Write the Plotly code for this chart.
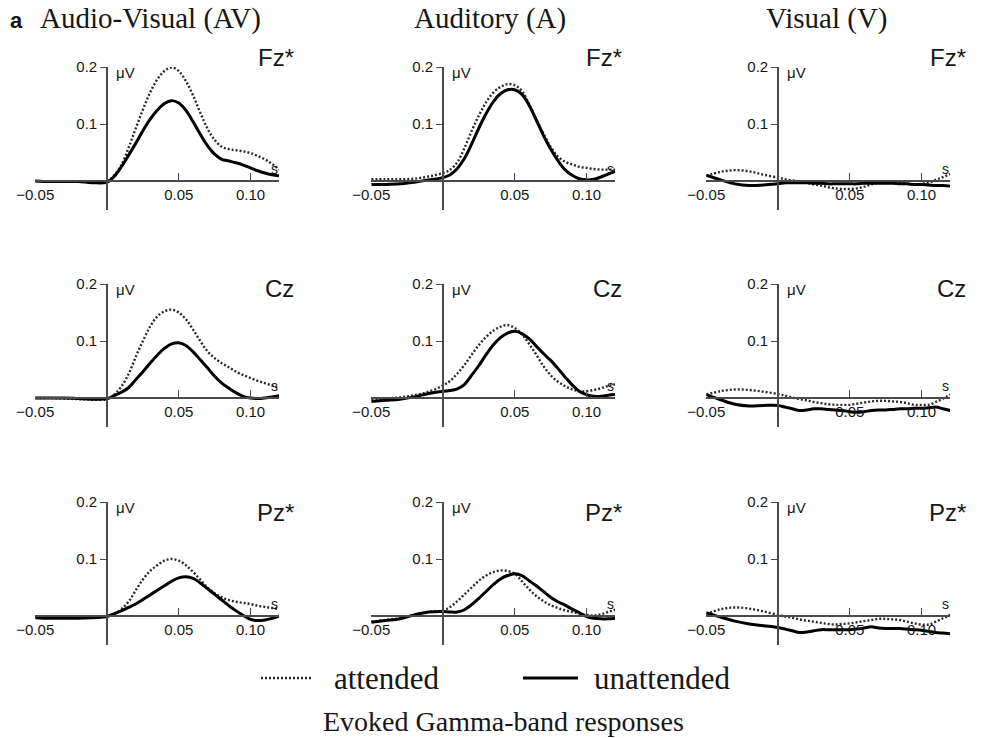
import plotly.graph_objects as go

W, H = 986, 738

# ---------------- data ----------------
t = [-0.05, -0.04, -0.03, -0.02, -0.01, 0.000, 0.005, 0.010, 0.015, 0.020,
     0.025, 0.030, 0.035, 0.040, 0.045, 0.050, 0.055, 0.060, 0.065, 0.070,
     0.075, 0.080, 0.085, 0.090, 0.095, 0.100, 0.105, 0.110, 0.115, 0.120]

conditions = ["Audio-Visual (AV)", "Auditory (A)", "Visual (V)"]
electrodes = ["Fz*", "Cz", "Pz*"]
x_tick_vals = [-0.05, 0.05, 0.10]
x_tick_text = ["\u22120.05", "0.05", "0.10"]
y_tick_vals = [0.1, 0.2]
y_tick_text = ["0.1", "0.2"]

av_fz_att = [0.000, -0.001, -0.001, -0.001, -0.002, 0.000, 0.010, 0.028, 0.058, 0.092,
             0.125, 0.155, 0.178, 0.193, 0.199, 0.193, 0.175, 0.150, 0.120, 0.092,
             0.072, 0.060, 0.056, 0.054, 0.052, 0.049, 0.044, 0.038, 0.030, 0.020]
av_fz_unatt = [0.000, -0.001, -0.001, -0.001, -0.003, -0.002, 0.008, 0.025, 0.045, 0.066,
               0.088, 0.108, 0.124, 0.136, 0.141, 0.137, 0.124, 0.104, 0.082, 0.062,
               0.047, 0.038, 0.035, 0.032, 0.028, 0.023, 0.018, 0.014, 0.011, 0.009]
av_cz_att = [0.000, 0.000, -0.001, -0.002, -0.003, -0.002, 0.006, 0.020, 0.042, 0.072,
             0.100, 0.125, 0.143, 0.152, 0.155, 0.150, 0.138, 0.120, 0.100, 0.082,
             0.070, 0.061, 0.054, 0.046, 0.040, 0.035, 0.030, 0.026, 0.022, 0.019]
av_cz_unatt = [0.000, 0.000, 0.000, -0.001, -0.002, -0.001, 0.004, 0.010, 0.018, 0.032,
               0.046, 0.061, 0.075, 0.087, 0.095, 0.097, 0.092, 0.081, 0.067, 0.053,
               0.038, 0.026, 0.017, 0.009, 0.003, 0.000, -0.001, 0.000, 0.002, 0.004]
av_pz_att = [-0.001, -0.002, -0.002, -0.002, -0.003, -0.001, 0.004, 0.012, 0.025, 0.045,
             0.064, 0.079, 0.089, 0.097, 0.100, 0.097, 0.089, 0.077, 0.064, 0.050,
             0.040, 0.033, 0.028, 0.025, 0.023, 0.021, 0.018, 0.016, 0.014, 0.012]
av_pz_unatt = [-0.003, -0.004, -0.004, -0.004, -0.003, -0.001, 0.004, 0.009, 0.015, 0.021,
               0.029, 0.037, 0.045, 0.053, 0.061, 0.067, 0.069, 0.066, 0.058, 0.048,
               0.038, 0.028, 0.018, 0.009, 0.001, -0.006, -0.008, -0.007, -0.004, 0.000]

a_fz_att = [0.003, 0.003, 0.003, 0.004, 0.008, 0.014, 0.020, 0.033, 0.058, 0.088,
            0.115, 0.138, 0.155, 0.165, 0.170, 0.168, 0.158, 0.135, 0.108, 0.083,
            0.060, 0.043, 0.034, 0.029, 0.025, 0.023, 0.021, 0.020, 0.020, 0.020]
a_fz_unatt = [-0.006, -0.006, -0.005, -0.002, 0.002, 0.006, 0.011, 0.022, 0.040, 0.065,
              0.093, 0.118, 0.139, 0.153, 0.160, 0.160, 0.152, 0.133, 0.107, 0.080,
              0.056, 0.036, 0.020, 0.010, 0.004, 0.002, 0.003, 0.007, 0.012, 0.017]
a_cz_att = [-0.003, -0.001, 0.001, 0.005, 0.011, 0.022, 0.030, 0.043, 0.058, 0.076,
            0.093, 0.107, 0.118, 0.125, 0.128, 0.123, 0.112, 0.095, 0.076, 0.056,
            0.040, 0.029, 0.021, 0.015, 0.012, 0.012, 0.014, 0.017, 0.021, 0.024]
a_cz_unatt = [-0.006, -0.004, -0.002, 0.002, 0.008, 0.012, 0.013, 0.016, 0.024, 0.040,
              0.057, 0.076, 0.093, 0.106, 0.114, 0.117, 0.113, 0.104, 0.091, 0.078,
              0.066, 0.052, 0.037, 0.023, 0.012, 0.006, 0.003, 0.003, 0.005, 0.006]
a_pz_att = [-0.010, -0.007, -0.004, 0.002, 0.007, 0.010, 0.016, 0.026, 0.038, 0.050,
            0.062, 0.071, 0.077, 0.080, 0.079, 0.074, 0.061, 0.047, 0.035, 0.026,
            0.019, 0.014, 0.010, 0.007, 0.004, 0.002, 0.001, 0.003, 0.007, 0.011]
a_pz_unatt = [-0.011, -0.008, -0.005, 0.002, 0.007, 0.008, 0.007, 0.007, 0.011, 0.020,
              0.031, 0.043, 0.055, 0.065, 0.071, 0.074, 0.071, 0.062, 0.053, 0.043,
              0.033, 0.025, 0.019, 0.012, 0.006, -0.001, -0.004, -0.005, -0.005, -0.004]

v_fz_att = [0.009, 0.016, 0.019, 0.017, 0.011, 0.006, 0.003, 0.001, -0.001, -0.003,
            -0.006, -0.008, -0.011, -0.013, -0.014, -0.014, -0.013, -0.010, -0.006, -0.003,
            -0.002, -0.002, -0.003, -0.005, -0.006, -0.005, -0.003, 0.002, 0.007, 0.012]
v_fz_unatt = [0.010, 0.002, -0.005, -0.008, -0.007, -0.005, -0.003, -0.003, -0.003, -0.003,
              -0.004, -0.004, -0.005, -0.005, -0.005, -0.005, -0.005, -0.004, -0.004, -0.004,
              -0.004, -0.004, -0.005, -0.005, -0.006, -0.006, -0.007, -0.008, -0.008, -0.009]
v_cz_att = [0.006, 0.012, 0.015, 0.014, 0.011, 0.007, 0.004, 0.001, -0.002, -0.004,
            -0.007, -0.009, -0.011, -0.012, -0.012, -0.012, -0.010, -0.008, -0.006, -0.005,
            -0.005, -0.006, -0.007, -0.009, -0.012, -0.012, -0.012, -0.007, -0.001, 0.006]
v_cz_unatt = [0.006, -0.003, -0.011, -0.014, -0.013, -0.013, -0.016, -0.019, -0.022, -0.021,
              -0.019, -0.019, -0.020, -0.021, -0.022, -0.024, -0.025, -0.024, -0.022, -0.021,
              -0.021, -0.020, -0.019, -0.019, -0.018, -0.018, -0.017, -0.016, -0.019, -0.022]
v_pz_att = [0.003, 0.012, 0.015, 0.013, 0.008, 0.002, -0.001, -0.003, -0.006, -0.008,
            -0.010, -0.012, -0.014, -0.015, -0.014, -0.013, -0.011, -0.009, -0.007, -0.005,
            -0.005, -0.006, -0.007, -0.010, -0.013, -0.015, -0.015, -0.010, -0.004, 0.002]
v_pz_unatt = [0.006, -0.002, -0.009, -0.014, -0.017, -0.020, -0.023, -0.026, -0.029, -0.028,
              -0.026, -0.024, -0.024, -0.024, -0.024, -0.024, -0.023, -0.021, -0.019, -0.021,
              -0.022, -0.022, -0.022, -0.023, -0.024, -0.025, -0.027, -0.029, -0.030, -0.031]

attended = [[av_fz_att, a_fz_att, v_fz_att],
            [av_cz_att, a_cz_att, v_cz_att],
            [av_pz_att, a_pz_att, v_pz_att]]
unattended = [[av_fz_unatt, a_fz_unatt, v_fz_unatt],
              [av_cz_unatt, a_cz_unatt, v_cz_unatt],
              [av_pz_unatt, a_pz_unatt, v_pz_unatt]]

# ---------------- layout geometry (pixels) ----------------
x_range = [-0.05, 0.12]
y_range = [-0.05, 0.2]
col_zero_px = [107, 443, 778]      # x position of t = 0
row_zero_px = [181, 398, 616]      # y position of 0 uV
px_per_s = 1435.0
px_per_uv = 570.0
label_right_px = [296, 624, 968]
label_y_px = [57, 288, 512]
title_x_px = [150, 490, 826]

SANS = "Liberation Sans, Arial, sans-serif"
SERIF = "Liberation Serif, Times New Roman, serif"
AX_COL = "#4a4a4a"
TXT_COL = "#161616"

fig = go.Figure()
layout = dict(
    width=W, height=H, margin=dict(l=0, r=0, t=0, b=0, autoexpand=False),
    paper_bgcolor="white", plot_bgcolor="white", showlegend=False,
)
annotations = []
shapes = []

for r in range(3):
    for c in range(3):
        k = r * 3 + c + 1
        xs = "" if k == 1 else str(k)
        x0 = (col_zero_px[c] + x_range[0] * px_per_s) / W
        x1 = (col_zero_px[c] + x_range[1] * px_per_s) / W
        top_px = row_zero_px[r] - y_range[1] * px_per_uv
        bot_px = row_zero_px[r] - y_range[0] * px_per_uv
        y0 = 1 - bot_px / H
        y1 = 1 - top_px / H

        fig.add_trace(go.Scatter(
            x=t, y=attended[r][c], mode="lines", name="attended",
            line=dict(color="#2a2a2a", width=2.4, dash="2px,2px", shape="spline", smoothing=1.0),
            xaxis="x" + xs, yaxis="y" + xs, hoverinfo="skip"))
        fig.add_trace(go.Scatter(
            x=t, y=unattended[r][c], mode="lines", name="unattended",
            line=dict(color="#000000", width=3.0, shape="spline", smoothing=1.0),
            xaxis="x" + xs, yaxis="y" + xs, hoverinfo="skip"))

        layout["xaxis" + xs] = dict(
            domain=[x0, x1], range=x_range, anchor="free", position=1 - row_zero_px[r] / H,
            automargin=False,
            showgrid=False, zeroline=False, showline=True, linecolor=AX_COL, linewidth=1.6,
            ticks="inside", ticklen=7, tickwidth=1.4, tickcolor=AX_COL,
            tickvals=x_tick_vals, ticktext=x_tick_text,
            tickfont=dict(family=SANS, size=15, color=TXT_COL), fixedrange=True)
        layout["yaxis" + xs] = dict(
            domain=[y0, y1], range=y_range, anchor="free", position=col_zero_px[c] / W,
            automargin=False,
            showgrid=False, zeroline=False, showline=True, linecolor=AX_COL, linewidth=1.6,
            ticks="outside", ticklen=6, tickwidth=1.4, tickcolor=AX_COL,
            tickvals=y_tick_vals, ticktext=y_tick_text,
            tickfont=dict(family=SANS, size=15, color=TXT_COL), fixedrange=True)

        annotations.append(dict(
            x=0.005, y=0.19, xref="x" + xs, yref="y" + xs, text="\u03bcV", showarrow=False,
            xanchor="left", yanchor="middle", font=dict(family=SANS, size=15, color=TXT_COL)))
        annotations.append(dict(
            x=0.117, y=0.021, xref="x" + xs, yref="y" + xs, text="s", showarrow=False,
            xanchor="center", yanchor="middle", font=dict(family=SANS, size=14, color=TXT_COL)))
        annotations.append(dict(
            x=label_right_px[c] / W, y=1 - label_y_px[r] / H, xref="paper", yref="paper",
            text=electrodes[r], showarrow=False, xanchor="right", yanchor="middle",
            font=dict(family=SANS, size=24, color=TXT_COL)))

for c in range(3):
    annotations.append(dict(
        x=title_x_px[c] / W, y=1 - 19 / H, xref="paper", yref="paper", text=conditions[c],
        showarrow=False, xanchor="center", yanchor="middle",
        font=dict(family=SERIF, size=29, color=TXT_COL)))
annotations.append(dict(
    x=8 / W, y=1 - 20 / H, xref="paper", yref="paper", text="<b>a</b>", showarrow=False,
    xanchor="left", yanchor="middle", font=dict(family=SANS, size=22, color=TXT_COL)))

# legend (key samples + labels)
leg_y = 1 - 678 / H
shapes.append(dict(type="line", xref="paper", yref="paper", x0=261 / W, x1=313 / W, y0=leg_y, y1=leg_y,
                   line=dict(color="#2a2a2a", width=2.4, dash="2px,2px")))
shapes.append(dict(type="line", xref="paper", yref="paper", x0=523 / W, x1=578 / W, y0=leg_y, y1=leg_y,
                   line=dict(color="#000000", width=3.0)))
annotations.append(dict(x=332 / W, y=leg_y, xref="paper", yref="paper", text="attended", showarrow=False,
                        xanchor="left", yanchor="middle", font=dict(family=SERIF, size=31, color=TXT_COL)))
annotations.append(dict(x=592 / W, y=leg_y, xref="paper", yref="paper", text="unattended", showarrow=False,
                        xanchor="left", yanchor="middle", font=dict(family=SERIF, size=31, color=TXT_COL)))
annotations.append(dict(x=503 / W, y=1 - 721 / H, xref="paper", yref="paper",
                        text="Evoked Gamma-band responses", showarrow=False,
                        xanchor="center", yanchor="middle", font=dict(family=SERIF, size=28, color=TXT_COL)))

layout["annotations"] = annotations
layout["shapes"] = shapes
fig.update_layout(**layout)
fig.write_html("out.html")
